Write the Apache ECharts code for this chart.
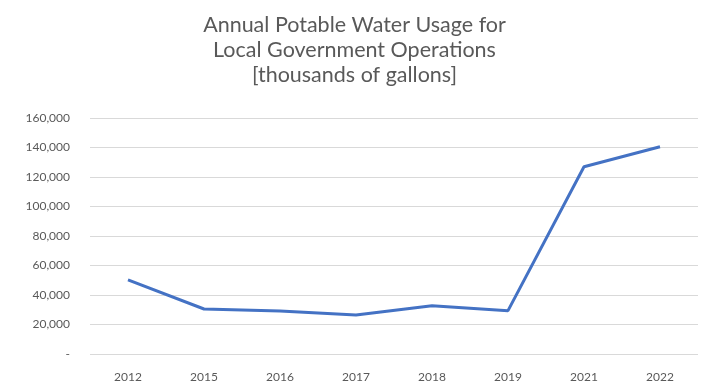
<!DOCTYPE html>
<html>
<head>
<meta charset="utf-8">
<script src="https://cdn.jsdelivr.net/npm/echarts@6/dist/echarts.min.js"></script>
<style>
  html, body { margin: 0; padding: 0; background: #fff; }
  #chart { width: 709px; height: 387px; }
</style>
</head>
<body>
<div id="chart"></div>
<script>
// data
const years = ['2012', '2015', '2016', '2017', '2018', '2019', '2021', '2022'];
const usage = [50200, 30500, 29200, 26400, 32700, 29400, 127000, 140500];
const titleLines = ['Annual Potable Water Usage for', 'Local Government Operations', '[thousands of gallons]'];

const chart = echarts.init(document.getElementById('chart'), null, { renderer: 'canvas' });

const fmt = v => v === 0 ? '-' : v.toLocaleString('en-US');

chart.setOption({
    backgroundColor: '#fff',
    animation: false,
    title: {
        text: titleLines.join('\n'),
        left: 'center',
        top: 8,
        textStyle: {
            fontFamily: 'Lato',
            fontWeight: 'normal',
            fontSize: 21.5,
            lineHeight: 25,
            color: '#595959'
        }
    },
    grid: {
        left: 90,
        right: 11,
        top: 118,
        bottom: 33
    },
    xAxis: {
        type: 'category',
        data: years,
        axisLine: { show: false },
        axisTick: { show: false },
        axisLabel: { color: '#595959', fontFamily: 'Lato', fontSize: 12, margin: 17 }
    },
    yAxis: {
        type: 'value',
        min: 0,
        max: 160000,
        interval: 20000,
        axisLine: { show: false },
        axisTick: { show: false },
        splitLine: { lineStyle: { color: '#d9d9d9', width: 1 } },
        axisLabel: {
            color: '#595959',
            fontFamily: 'Lato',
            fontSize: 12,
            margin: 20,
            formatter: fmt
        }
    },
    series: [{
        name: 'Usage',
        type: 'line',
        data: usage,
        symbol: 'none',
        lineStyle: { color: '#4472c4', width: 3 }
    }]
});
</script>
</body>
</html>
